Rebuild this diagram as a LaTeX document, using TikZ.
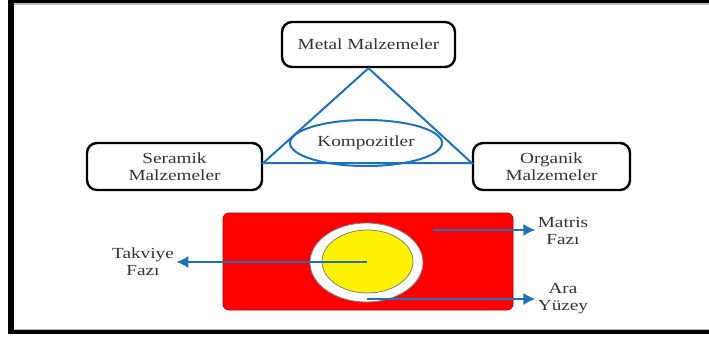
\documentclass[tikz,border=0pt]{standalone}
\usepackage{fontspec}
\setmainfont{Liberation Serif}[FakeStretch=1.25]
\usetikzlibrary{shapes.geometric,arrows.meta}
\definecolor{tblue}{RGB}{30,112,192}
\definecolor{txt}{RGB}{50,50,55}
\tikzset{
  matbox/.style={draw=black, line width=1.2pt, rounded corners=5pt, fill=white, align=center, text=txt, font=\fontsize{7.7}{8.6}\selectfont},
  lbl/.style={align=center, text=txt, font=\fontsize{7.7}{8.6}\selectfont, inner sep=1pt},
  tri/.style={draw=tblue, line width=1pt},
  barrow/.style={draw=tblue, line width=1pt, -{Latex[length=6pt,width=6pt]}},
}
\begin{document}
\begin{tikzpicture}[x=0.5pt,y=-0.5pt]
\useasboundingbox (0,0) rectangle (709,338);
% frame
\fill[black] (8,0) rectangle (14,334);
\fill[black] (8,0) rectangle (709,3);
\fill[black] (8,330) rectangle (709,334);
\fill[black!25] (14,3) rectangle (709,4.5);
\fill[black!25] (14,328.5) rectangle (709,330);
% top boxes
\node[matbox, minimum width=86.5pt, minimum height=22.5pt] (metal) at (368.5,44.5) {Metal Malzemeler};
\node[matbox, minimum width=87.5pt, minimum height=23.5pt] (seramik) at (174.5,166.5) {Seramik\\Malzemeler};
\node[matbox, minimum width=78.5pt, minimum height=23.5pt] (organik) at (551.5,166.5) {Organik\\Malzemeler};
% triangle
\draw[tri, line join=miter] (metal.south) -- ([yshift=1.75pt]seramik.east) -- ([yshift=1.75pt]organik.west) -- cycle;
\node[ellipse, draw=tblue, line width=1pt, minimum width=76pt, minimum height=23pt, inner sep=0pt, lbl] (komp) at (366,143) {Kompozitler};
% bottom diagram
\node[draw=red!70!black, line width=0.4pt, fill=red, rounded corners=3pt, minimum width=145pt, minimum height=48.5pt] (matrix) at (368,261.5) {};
\node[ellipse, draw=black!50, line width=0.4pt, fill=white, minimum width=56.5pt, minimum height=39.5pt] (interface) at (366.5,262.5) {};
\node[ellipse, draw=black!50, line width=0.4pt, fill=yellow, minimum width=45.5pt, minimum height=31.5pt] (fiber) at (367.5,261.5) {};
\coordinate (fc) at (367,262);
\coordinate (mstart) at (433,230);
\coordinate (istart) at (367,299);
\node[lbl] (takviye) at (143,262) {Takviye\\Fazı};
\node[lbl] (matris) at (563,231) {Matris\\Fazı};
\node[lbl] (ara) at (563,298.5) {Ara\\Yüzey};
\draw[barrow] (fc) -- (fc -| takviye.east);
\draw[barrow] (mstart) -- (mstart -| matris.west);
\draw[barrow] (istart) -- (istart -| ara.west);
\end{tikzpicture}
\end{document}
